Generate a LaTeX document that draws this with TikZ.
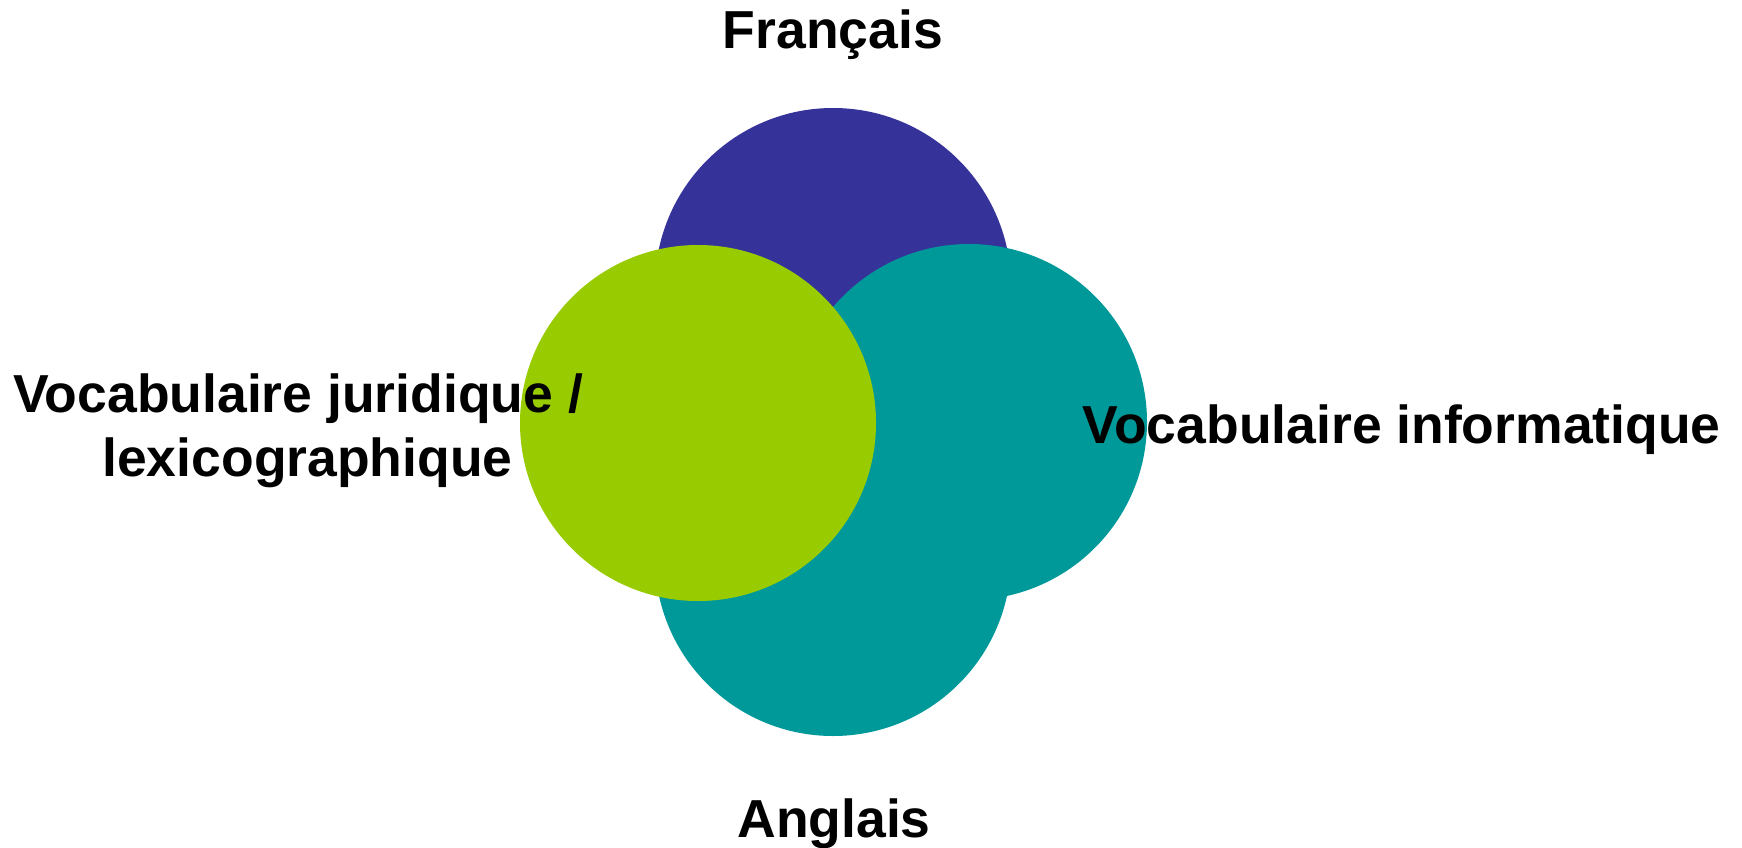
\documentclass[tikz,border=0pt]{standalone}
\usepackage{fontspec}
\setmainfont{Liberation Sans}
\definecolor{cpurple}{HTML}{353399}
\definecolor{cteal}{HTML}{009999}
\definecolor{cgreen}{HTML}{99CC00}
\begin{document}
\begin{tikzpicture}[x=1pt,y=-1pt,
  blob/.style={circle,minimum size=356pt,inner sep=0pt,draw=none},
  lbl/.style={font=\fontsize{53.5}{65}\selectfont\bfseries,text=black,inner sep=0pt,anchor=base}]
\useasboundingbox[fill=white] (0,0) rectangle (1742,848);
\node[blob,fill=cpurple] (top) at (833,286) {};
\node[blob,fill=cteal] (bottom) at (833,558) {};
\node[blob,fill=cteal] (right) at (969,422) {};
\node[blob,fill=cgreen] (left) at (698,423) {};
\node[lbl] (fr) at (833,49) {Français};
\node[lbl] (en) at (834,837) {Anglais};
\node[lbl] (info) at (1401.5,443) {Vocabulaire informatique};
\node[lbl] (jur1) at (298,412) {Vocabulaire juridique /};
\node[lbl] (jur2) at (307.5,476) {lexicographique};
\end{tikzpicture}
\end{document}
